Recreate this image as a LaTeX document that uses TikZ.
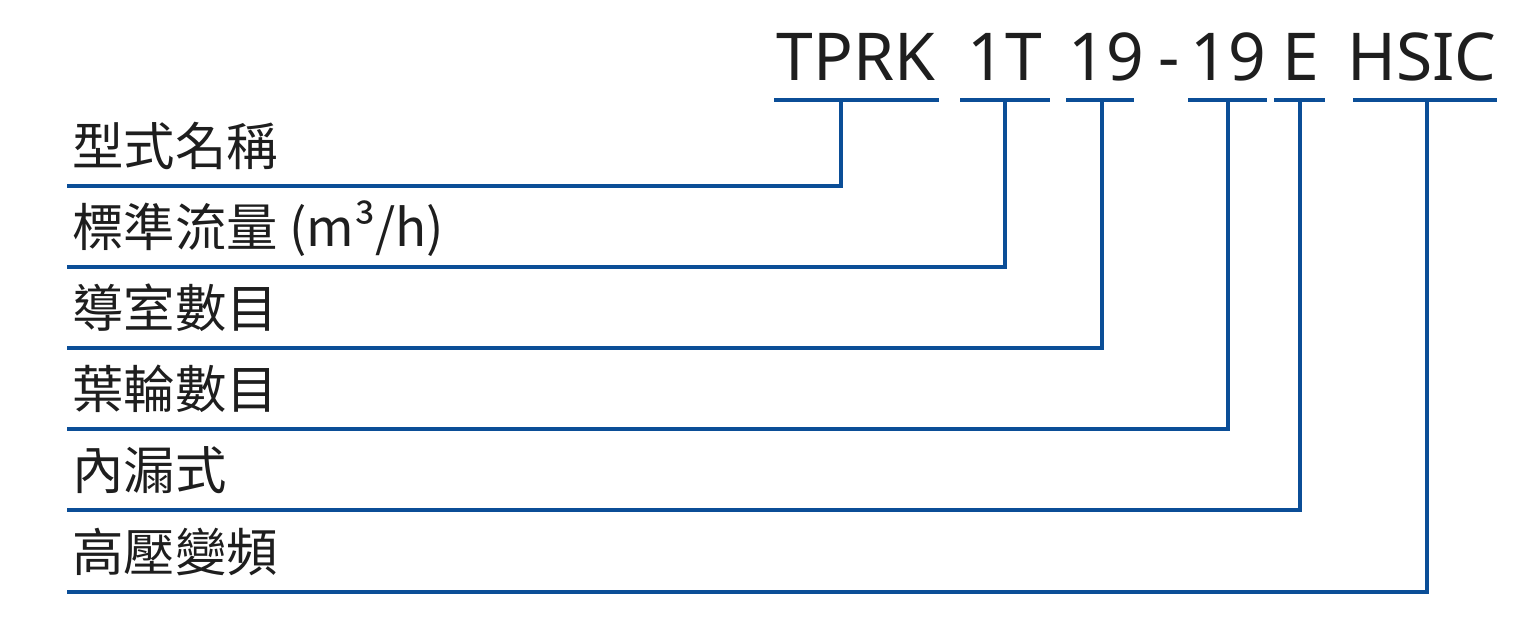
\documentclass[tikz,border=0pt]{standalone}
\usepackage{fontspec}
\setmainfont{Noto Sans}
\newfontfamily\cjkfont{Noto Sans CJK TC}
\usetikzlibrary{positioning,calc}
\definecolor{rulebl}{HTML}{0B4E97}
\definecolor{inkdk}{HTML}{1E1E1E}

\tikzset{
  code/.style={anchor=base,inner sep=0pt,text=inkdk,font=\fontsize{33}{33}\selectfont},
  lab/.style={anchor=base west,inner sep=0pt,text=inkdk,font=\cjkfont\fontsize{25.7}{26}\selectfont},
  rule/.style={draw=rulebl,line width=2pt,line cap=rect}
}

\begin{document}
\begin{tikzpicture}[x=0.5pt,y=-0.5pt]
\useasboundingbox (0,0) rectangle (1536,638);
% model code
\node[code] (tprk) at (856,80) {TPRK};
\node[code] (flow) at (1005,80) {1T};
\node[code] (cham) at (1106,80) {19};
\node[code] (dash) at (1169,80) {-};
\node[code] (imp) at (1228,80) {19};
\node[code] (leak) at (1301,80) {E};
\node[code] (hv) at (1422,80) {HSIC};
% underlines
\coordinate (tprk-a) at (776,100);\coordinate (tprk-b) at (937,100);\coordinate (tprk-m) at (841,100);
\coordinate (flow-a) at (962,100);\coordinate (flow-b) at (1048,100);\coordinate (flow-m) at (1005,100);
\coordinate (cham-a) at (1068,100);\coordinate (cham-b) at (1132,100);\coordinate (cham-m) at (1102,100);
\coordinate (imp-a) at (1190,100);\coordinate (imp-b) at (1265,100);\coordinate (imp-m) at (1228,100);
\coordinate (leak-a) at (1276,100);\coordinate (leak-b) at (1323,100);\coordinate (leak-m) at (1300,100);
\coordinate (hv-a) at (1355,100);\coordinate (hv-b) at (1495,100);\coordinate (hv-m) at (1427,100);
\draw[rule] (tprk-a)--(tprk-b);\draw[rule] (flow-a)--(flow-b);\draw[rule] (cham-a)--(cham-b);
\draw[rule] (imp-a)--(imp-b);\draw[rule] (leak-a)--(leak-b);\draw[rule] (hv-a)--(hv-b);
% labels and their lines
\node[lab] (tprk-t) at (72,165) {型式名稱};
\node[lab] (flow-t) at (72,246) {標準流量 (m³/h)};
\node[lab] (cham-t) at (72,327) {導室數目};
\node[lab] (imp-t) at (72,408) {葉輪數目};
\node[lab] (leak-t) at (72,489) {內漏式};
\node[lab] (hv-t) at (72,571) {高壓變頻};
\coordinate (tprk-l) at (69,186);
\coordinate (flow-l) at (69,267);
\coordinate (cham-l) at (69,348);
\coordinate (imp-l) at (69,429);
\coordinate (leak-l) at (69,510);
\coordinate (hv-l) at (69,592);
\draw[rule] (tprk-m) |- (tprk-l);
\draw[rule] (flow-m) |- (flow-l);
\draw[rule] (cham-m) |- (cham-l);
\draw[rule] (imp-m) |- (imp-l);
\draw[rule] (leak-m) |- (leak-l);
\draw[rule] (hv-m) |- (hv-l);
\end{tikzpicture}
\end{document}
